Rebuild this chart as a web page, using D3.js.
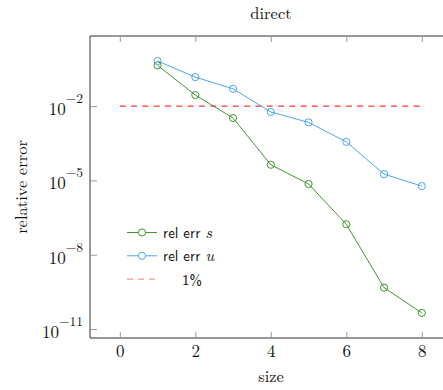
<!DOCTYPE html>
<html>
<head>
<meta charset="utf-8">
<script src="https://cdn.jsdelivr.net/npm/d3@7"></script>
<style>
  body { margin: 0; background: #fff; }
  svg { display: block; }
</style>
</head>
<body>
<svg id="chart" width="443" height="390"></svg>
<script>
// Problem sizes and the measured relative errors
const sizes = [1, 2, 3, 4, 5, 6, 7, 8];
const relErrS = [0.44, 0.028, 0.0033, 4.3e-5, 7.2e-6, 1.7e-7, 4.7e-10, 4.5e-11];
const relErrU = [0.66, 0.148, 0.050, 0.0058, 0.0022, 3.6e-4, 1.8e-5, 5.9e-6];
const threshold = 0.01;
const xTicks = [0, 2, 4, 6, 8];
const yTicks = [1e-2, 1e-5, 1e-8, 1e-11];
const yTickExps = ["−2", "−5", "−8", "−11"];

const colS = "#2c8a1c";
const colU = "#3a9af2";
const colRef = "#f00";

const serif = "'Latin Modern Roman', 'DejaVu Serif', 'Liberation Serif', serif";
const sans = "'Latin Modern Sans', 'DejaVu Sans', 'Noto Sans', sans-serif";
const textSize = 16.5;
const tickSize = 17;

const svg = d3.select("#chart");
const plotL = 90, plotR = 452, plotT = 36, plotB = 338;

const x = d3.scaleLinear().domain([-0.79, 8.8]).range([plotL, plotR]);
const y = d3.scaleLog().domain([Math.pow(10, -11.36), Math.pow(10, 0.83)]).range([plotB, plotT]);

// Frame: top, left and bottom (right side falls outside the canvas)
const frame = svg.append("g").attr("stroke", "#333").attr("stroke-width", 1).attr("fill", "none");
frame.append("path").attr("d", `M${plotR},${plotT}H${plotL}V${plotB}H${plotR}`);

// X ticks, drawn inward on bottom and top
const tickCol = "#999";
const xAxisB = d3.axisBottom(x).tickValues(xTicks).tickSize(-6).tickFormat(d3.format("d"));
const gx = svg.append("g").attr("transform", `translate(0,${plotB})`).call(xAxisB);
gx.select(".domain").remove();
gx.selectAll(".tick line").attr("stroke", tickCol);
gx.selectAll(".tick text").attr("y", 19).attr("dy", null)
  .attr("font-family", serif).attr("font-size", tickSize).attr("fill", "#111");

const xAxisT = d3.axisTop(x).tickValues(xTicks).tickSize(-6).tickFormat("");
const gxt = svg.append("g").attr("transform", `translate(0,${plotT})`).call(xAxisT);
gxt.select(".domain").remove();
gxt.selectAll(".tick line").attr("stroke", tickCol);

// Y ticks, inward on the left
const yAxis = d3.axisLeft(y).tickValues(yTicks).tickSize(-7).tickFormat("");
const gy = svg.append("g").attr("transform", `translate(${plotL},0)`).call(yAxis);
gy.select(".domain").remove();
gy.selectAll(".tick line").attr("stroke", tickCol);

// Y tick labels as 10 with a superscript exponent
yTicks.forEach((v, i) => {
  const t = svg.append("text")
    .attr("x", plotL - 7).attr("y", y(v) + 9)
    .attr("text-anchor", "end")
    .attr("font-family", serif).attr("font-size", tickSize).attr("fill", "#111");
  t.append("tspan").text("10");
  t.append("tspan").attr("dy", -12).attr("font-size", 13.5).text(yTickExps[i]);
});

// Titles
svg.append("text").attr("x", (plotL + plotR) / 2).attr("y", 18.5)
  .attr("text-anchor", "middle").attr("font-family", serif).attr("font-size", textSize).attr("fill", "#111")
  .text("direct");
svg.append("text").attr("x", (plotL + plotR) / 2).attr("y", 382)
  .attr("text-anchor", "middle").attr("font-family", serif).attr("font-size", textSize).attr("fill", "#111")
  .text("size");
svg.append("text")
  .attr("transform", `translate(27,${(plotT + plotB) / 2}) rotate(-90)`)
  .attr("text-anchor", "middle").attr("font-family", serif).attr("font-size", textSize).attr("fill", "#111")
  .text("relative error");

// Reference 1% line
svg.append("line")
  .attr("x1", x(0)).attr("x2", x(8)).attr("y1", y(threshold)).attr("y2", y(threshold))
  .attr("stroke", colRef).attr("stroke-width", 1).attr("stroke-dasharray", "6,5.3");

// Series
const line = d3.line().x(d => x(d[0])).y(d => y(d[1]));
function drawSeries(vals, col) {
  const pts = sizes.map((s, i) => [s, vals[i]]);
  svg.append("path").datum(pts).attr("d", line)
    .attr("fill", "none").attr("stroke", col).attr("stroke-width", 0.9);
  svg.append("g").selectAll("circle").data(pts).join("circle")
    .attr("cx", d => x(d[0])).attr("cy", d => y(d[1])).attr("r", 3.6)
    .attr("fill", "none").attr("stroke", col).attr("stroke-width", 0.9);
}
drawSeries(relErrU, colU);
drawSeries(relErrS, colS);

// Legend
const legend = svg.append("g");
const legendItems = [
  { col: colS, label: "rel err ", sym: "s", marker: true, dash: null },
  { col: colU, label: "rel err ", sym: "u", marker: true, dash: null },
  { col: colRef, label: "1%", sym: "", marker: false, dash: "6,5" }
];
legendItems.forEach((it, i) => {
  const ly = 232.5 + i * 23.3;
  legend.append("line").attr("x1", 127).attr("x2", 157).attr("y1", ly).attr("y2", ly)
    .attr("stroke", it.col).attr("stroke-width", 0.9).attr("stroke-dasharray", it.dash)
    .attr("stroke-opacity", it.marker ? 1 : 0.6);
  if (it.marker) {
    legend.append("circle").attr("cx", 142).attr("cy", ly).attr("r", 3.6)
      .attr("fill", "#fff").attr("stroke", it.col).attr("stroke-width", 0.9);
  }
  const t = legend.append("text")
    .attr("x", it.marker ? 163 : 182).attr("y", ly + 5.5)
    .attr("font-family", sans).attr("font-size", 15).attr("fill", "#111");
  t.append("tspan").text(it.label);
  if (it.sym) t.append("tspan").attr("font-family", serif).attr("font-style", "italic").attr("font-size", 16.5).text(it.sym);
});
</script>
</body>
</html>
